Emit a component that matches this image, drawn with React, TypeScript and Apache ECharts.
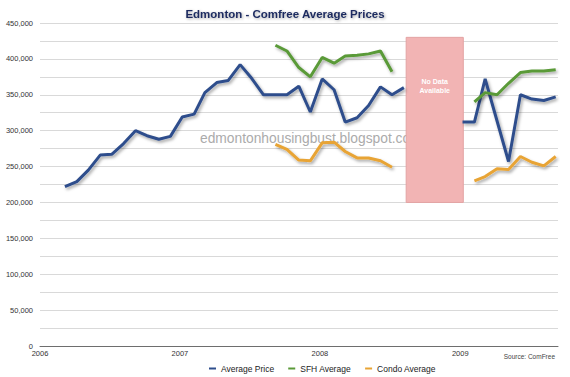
import React, { useEffect, useRef } from "react";
import * as echarts from "echarts";

const avgDates1 = ["2006-03-07","2006-04-07","2006-05-07","2006-06-07","2006-07-07","2006-08-07","2006-09-07","2006-10-07","2006-11-07","2006-12-07","2007-01-07","2007-02-07","2007-03-07","2007-04-07","2007-05-07","2007-06-07","2007-07-07","2007-08-07","2007-09-07","2007-10-07","2007-11-07","2007-12-07","2008-01-07","2008-02-07","2008-03-07","2008-04-07","2008-05-07","2008-06-07","2008-07-07","2008-08-07"];
const avgValues1 = [222000,229000,245000,266000,267000,282000,300000,293000,288000,292000,319000,323000,353000,367000,370000,392000,373000,350000,350000,350000,362000,326000,372000,357000,312000,318000,335000,361000,350000,360000];
const avgDates2 = ["2009-01-07","2009-02-07","2009-03-07","2009-05-07","2009-06-07","2009-07-07","2009-08-07","2009-09-07"];
const avgValues2 = [312000,312000,372000,257000,350000,344000,342000,347000];

const sfhDates1 = ["2007-09-07","2007-10-07","2007-11-07","2007-12-07","2008-01-07","2008-02-07","2008-03-07","2008-04-07","2008-05-07","2008-06-07","2008-07-07"];
const sfhValues1 = [419000,411000,388000,375000,402000,394000,404000,405000,407000,411000,382000];
const sfhDates2 = ["2009-02-07","2009-03-07","2009-04-07","2009-05-07","2009-06-07","2009-07-07","2009-08-07","2009-09-07"];
const sfhValues2 = [340000,353000,350000,366000,381000,383000,383000,385000];

const condoDates1 = sfhDates1;
const condoValues1 = [281000,274000,259000,258000,283000,284000,271000,262000,262000,258000,249000];
const condoDates2 = sfhDates2;
const condoValues2 = [230000,236000,247000,246000,264000,256000,251000,264000];

const yearTicks = ["2006-01-01", "2007-01-01", "2008-01-01", "2009-01-01"];
const axisRange = ["2006-01-01", "2009-09-13"];
const noDataRange = { x: ["2008-08-13", "2009-01-09"], y: [200000, 430000] };

const ts = (d: string) => Date.parse(d + "T00:00:00Z");
const zip = (d: string[], v: number[]) => d.map((x, i) => [ts(x), v[i]]);

const colors = { avg: "#2e4e8c", sfh: "#5a9a38", condo: "#e8a435" };
const font = "Liberation Sans, Arial, Helvetica, sans-serif";

export default function App() {
  const ref = useRef<HTMLDivElement>(null);
  useEffect(() => {
    if (!ref.current) return;
    const chart = echarts.init(ref.current, null, { renderer: "svg" });
    const lineStyle = (c: string) => ({
      color: c,
      width: 3,
      shadowColor: "rgba(0,0,0,0.35)",
      shadowBlur: 3,
      shadowOffsetX: 1.5,
      shadowOffsetY: 2,
    });
    const mk = (name: string, c: string, data: any[], extra: any = {}) => ({
      name,
      type: "line",
      data,
      showSymbol: false,
      symbol: "none",
      color: c,
      lineStyle: lineStyle(c),
      ...extra,
    });
    const yearTs = yearTicks.map(ts);
    chart.setOption({
      animation: false,
      backgroundColor: "#ffffff",
      textStyle: { fontFamily: font },
      title: {
        text: "Edmonton - Comfree Average Prices",
        left: "center",
        top: 3,
        textStyle: {
          fontSize: 11.5,
          fontWeight: "bold",
          color: "#1b2a5e",
          fontFamily: font,
          textShadowColor: "rgba(0,0,0,0.35)",
          textShadowBlur: 3,
          textShadowOffsetX: 1,
          textShadowOffsetY: 1,
        },
      },
      grid: { left: 40, right: 12, top: 23, bottom: 31 },
      legend: {
        left: 204,
        top: 359,
        itemGap: 14,
        itemWidth: 7,
        itemHeight: 2,
        icon: "rect",
        textStyle: { fontSize: 8.5, color: "#222", fontFamily: font },
        data: ["Average Price", "SFH Average", "Condo Average"],
      },
      xAxis: {
        type: "value",
        min: ts(axisRange[0]),
        max: ts(axisRange[1]),
        axisLine: { show: true, lineStyle: { color: "#6e6e6e", width: 1 } },
        axisTick: { show: false },
        splitLine: { show: false },
        axisLabel: {
          customValues: yearTs,
          fontSize: 7.5,
          color: "#333",
          margin: 3,
          formatter: (v: number) => String(new Date(v).getUTCFullYear()),
          hideOverlap: false,
        },
      },
      yAxis: {
        type: "value",
        min: 0,
        max: 450000,
        interval: 25000,
        axisLine: { show: false },
        axisTick: { show: false },
        splitLine: { lineStyle: { color: "#d9d9d9", width: 1 } },
        axisLabel: {
          fontSize: 7.5,
          color: "#333",
          margin: 7,
          formatter: (v: number) =>
            v % 50000 === 0 ? v.toLocaleString("en-US") : "",
        },
      },
      graphic: [
        {
          type: "text",
          left: 200,
          top: 131,
          z: 0,
          style: {
            text: "edmontonhousingbust.blogspot.com",
            fill: "#ababab",
            fontSize: 13.8,
            fontFamily: font,
          },
        },
        {
          type: "text",
          right: 15,
          top: 353,
          style: {
            text: "Source: ComFree",
            fill: "#444",
            fontSize: 6.5,
            fontFamily: font,
          },
        },
      ],
      series: [
        mk("Average Price", colors.avg, zip(avgDates1, avgValues1), {
          z: 3,
          markArea: {
            silent: true,
            itemStyle: { color: "#f2b4b4", borderColor: "#e3a3a3", borderWidth: 1 },
            label: {
              show: true,
              position: "insideTop",
              distance: 40,
              formatter: "No Data\nAvailable",
              color: "#ffffff",
              fontSize: 7,
              fontWeight: "bold",
              lineHeight: 9,
              align: "center",
            },
            data: [
              [
                { xAxis: ts(noDataRange.x[0]), yAxis: noDataRange.y[0] },
                { xAxis: ts(noDataRange.x[1]), yAxis: noDataRange.y[1] },
              ],
            ],
          },
        }),
        mk("Average Price", colors.avg, zip(avgDates2, avgValues2), { z: 3 }),
        mk("SFH Average", colors.sfh, zip(sfhDates1, sfhValues1)),
        mk("SFH Average", colors.sfh, zip(sfhDates2, sfhValues2)),
        mk("Condo Average", colors.condo, zip(condoDates1, condoValues1)),
        mk("Condo Average", colors.condo, zip(condoDates2, condoValues2)),
      ],
    });
    return () => chart.dispose();
  }, []);
  return <div ref={ref} style={{ width: 570, height: 377, position: "absolute", left: 0, top: 0 }} />;
}
